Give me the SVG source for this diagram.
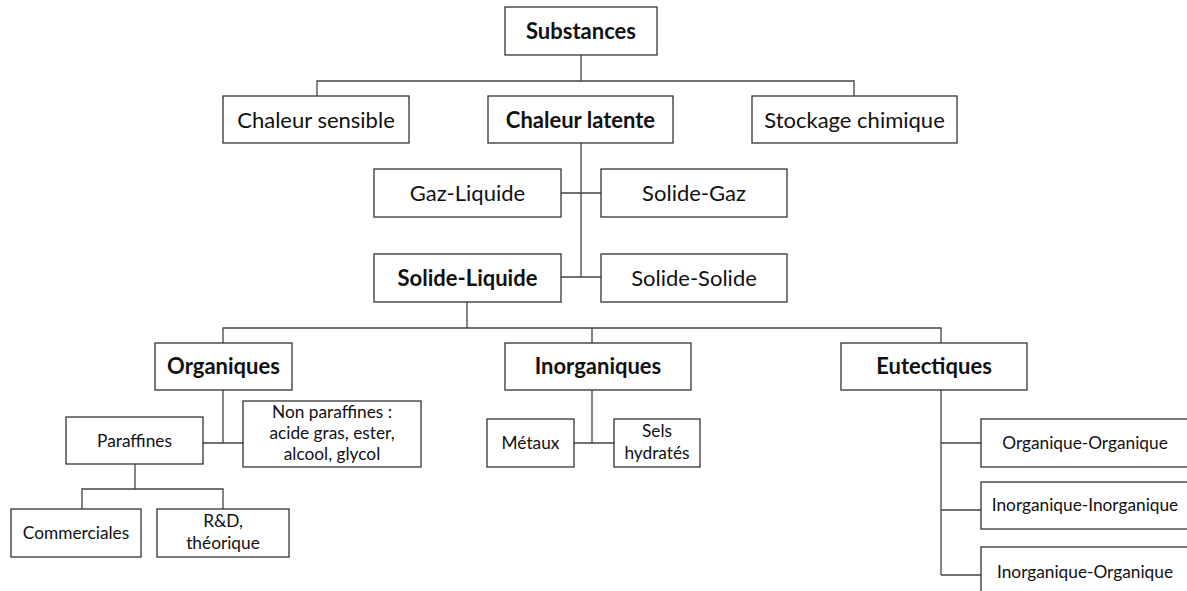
<svg xmlns="http://www.w3.org/2000/svg" width="1187" height="591" viewBox="0 0 1187 591">
<style>
rect{fill:#fff;stroke:#333;stroke-width:1.3}
.c path{fill:none;stroke:#444;stroke-width:1.3}
text{font-family:Lato,"Liberation Sans",sans-serif;fill:#111;text-anchor:middle}
.l{font-size:22px}
.b{font-size:22px;font-weight:bold}
.s{font-size:17.3px}
</style>
<rect x="0" y="0" width="1187" height="591" style="stroke:none"/>
<g class="c" id="connectors">
<path d="M581 55V81M317 96V81H854V96M581 143V277M561 193H601M561 277H601"/>
<path d="M467 302V328M223 343V328H941V343M592 328V343"/>
<path d="M223 390V443M203 443H243M135 464V489M82 509V489H223V509"/>
<path d="M592 390V443M574 443H614"/>
<path d="M941 390V575M941 443H981M941 510H981M941 575H981"/>
</g>
<g id="substances"><rect x="505" y="7" width="152" height="48"/><text class="b" x="581" y="39">Substances</text></g>
<g id="chaleur-sensible"><rect x="223" y="96" width="186" height="47"/><text class="l" x="316" y="127.5">Chaleur sensible</text></g>
<g id="chaleur-latente"><rect x="488" y="96" width="185" height="47"/><text class="b" x="580.5" y="127.5">Chaleur latente</text></g>
<g id="stockage-chimique"><rect x="752" y="96" width="205" height="47"/><text class="l" x="854.5" y="127.5">Stockage chimique</text></g>
<g id="gaz-liquide"><rect x="374" y="169" width="187" height="48"/><text class="l" x="467.5" y="201">Gaz-Liquide</text></g>
<g id="solide-gaz"><rect x="601" y="169" width="186" height="48"/><text class="l" x="694" y="201">Solide-Gaz</text></g>
<g id="solide-liquide"><rect x="374" y="254" width="187" height="48"/><text class="b" x="467.5" y="286">Solide-Liquide</text></g>
<g id="solide-solide"><rect x="601" y="254" width="186" height="48"/><text class="l" x="694" y="286">Solide-Solide</text></g>
<g id="organiques"><rect x="155" y="343" width="137" height="47"/><text class="b" x="223.5" y="374">Organiques</text></g>
<g id="inorganiques"><rect x="505" y="343" width="186" height="47"/><text class="b" x="598" y="374">Inorganiques</text></g>
<g id="eutectiques"><rect x="841" y="343" width="186" height="47"/><text class="b" x="934" y="374">Eutectiques</text></g>
<g id="paraffines"><rect x="66" y="417" width="137" height="47"/><text class="s" x="134.5" y="446.5">Paraffines</text></g>
<g id="non-paraffines"><rect x="243" y="401" width="178" height="66"/><text class="s" x="332" y="418">Non paraffines :</text><text class="s" x="332" y="439">acide gras, ester,</text><text class="s" x="332" y="460">alcool, glycol</text></g>
<g id="commerciales"><rect x="11" y="509" width="130" height="48"/><text class="s" x="76" y="538.5">Commerciales</text></g>
<g id="rd-theorique"><rect x="157" y="509" width="132" height="48"/><text class="s" x="223" y="527">R&amp;D,</text><text class="s" x="223" y="549">théorique</text></g>
<g id="metaux"><rect x="487" y="419" width="87" height="48"/><text class="s" x="530.5" y="448.5">Métaux</text></g>
<g id="sels-hydrates"><rect x="614" y="419" width="86" height="48"/><text class="s" x="657" y="437">Sels</text><text class="s" x="657" y="459">hydratés</text></g>
<g id="organique-organique"><rect x="981" y="419" width="210" height="48"/><text class="s" x="1085" y="448.5">Organique-Organique</text></g>
<g id="inorganique-inorganique"><rect x="981" y="482" width="210" height="47"/><text class="s" x="1085" y="510.5">Inorganique-Inorganique</text></g>
<g id="inorganique-organique"><rect x="981" y="547" width="210" height="60"/><text class="s" x="1085" y="578">Inorganique-Organique</text></g>
</svg>
